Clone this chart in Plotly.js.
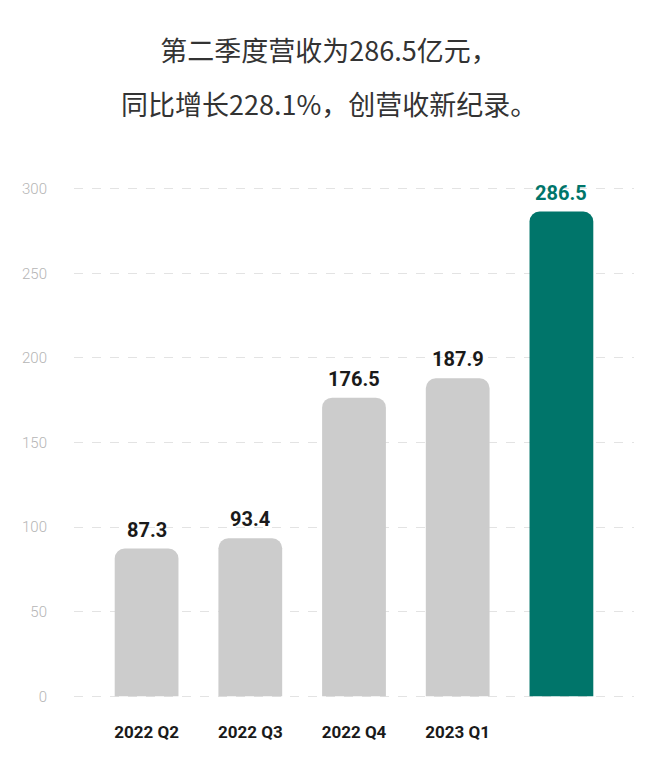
<!DOCTYPE html>
<html>
<head>
<meta charset="utf-8">
<script src="https://cdn.plot.ly/plotly-3.0.1.min.js"></script>
<style>
  html, body { margin: 0; padding: 0; background: #fff; }
  #chart { width: 658px; height: 780px; }
</style>
</head>
<body>
<div id="chart"></div>
<script>
// Quarterly revenue (亿元)
var quarters = ['2022 Q2', '2022 Q3', '2022 Q4', '2023 Q1', '2023 Q2'];
var revenue = [87.3, 93.4, 176.5, 187.9, 286.5];
var barColors = ['#cccccc', '#cccccc', '#cccccc', '#cccccc', '#00756a'];
var labelColors = ['#1a1a1a', '#1a1a1a', '#1a1a1a', '#1a1a1a', '#00756a'];
var titleLines = ['第二季度营收为286.5亿元，', '同比增长228.1%，创营收新纪录。'];
var yTicks = [0, 50, 100, 150, 200, 250, 300];

// last category label is hidden in the original (white on white)
var tickText = quarters.map(function (q, i) {
    return i === quarters.length - 1 ? '<span style="color:#ffffff">' + q + '</span>' : q;
});

var bars = {
    type: 'bar',
    x: quarters,
    y: revenue,
    marker: {
        color: barColors,
        cornerradius: 10
    },
    hoverinfo: 'x+y'
};

// value labels above bars
var annots = revenue.map(function (v, i) {
    return {
        x: quarters[i],
        y: v,
        xref: 'x',
        yref: 'y',
        text: '<b>' + v.toFixed(1) + '</b>',
        showarrow: false,
        yanchor: 'bottom',
        yshift: 5,
        font: { family: 'Roboto, sans-serif', size: 20, color: labelColors[i] }
    };
});

// plot area: left 74, width 560 -> page centre 329
var titleFont = { family: '"Noto Sans CJK SC", sans-serif', size: 27, color: '#333333' };
annots.push({
    text: titleLines[1],
    xref: 'paper',
    yref: 'paper',
    x: (329 - 74) / 560,
    y: (693 - 98) / 511,
    xanchor: 'center',
    yanchor: 'middle',
    showarrow: false,
    font: titleFont
});

var layout = {
    width: 658,
    height: 780,
    margin: { l: 74, r: 24, t: 187, b: 82, pad: 0 },
    paper_bgcolor: '#ffffff',
    plot_bgcolor: '#ffffff',
    showlegend: false,
    bargap: 0.385,
    title: {
        text: titleLines[0],
        x: 0.5,
        xref: 'container',
        xanchor: 'center',
        y: 1 - 52 / 780,
        yanchor: 'middle',
        font: titleFont
    },
    xaxis: {
        range: [-0.7, 4.7],
        tickvals: quarters,
        ticktext: tickText,
        showgrid: false,
        zeroline: false,
        showline: false,
        ticks: '',
        ticklabelstandoff: 22,
        tickfont: { family: 'Roboto, sans-serif', size: 17, color: '#1a1a1a', weight: 'bold' },
        fixedrange: true
    },
    yaxis: {
        range: [-1, 301],
        tickvals: yTicks,
        showgrid: true,
        gridcolor: '#e3e3e3',
        griddash: 'dash',
        gridwidth: 1,
        zeroline: false,
        showline: false,
        ticks: '',
        ticklabelstandoff: 26,
        tickfont: { family: 'Roboto, sans-serif', size: 15, color: '#b5b5b5', weight: 300 },
        fixedrange: true
    },
    annotations: annots
};

Plotly.newPlot('chart', [bars], layout, { displayModeBar: false, staticPlot: true });
</script>
</body>
</html>
